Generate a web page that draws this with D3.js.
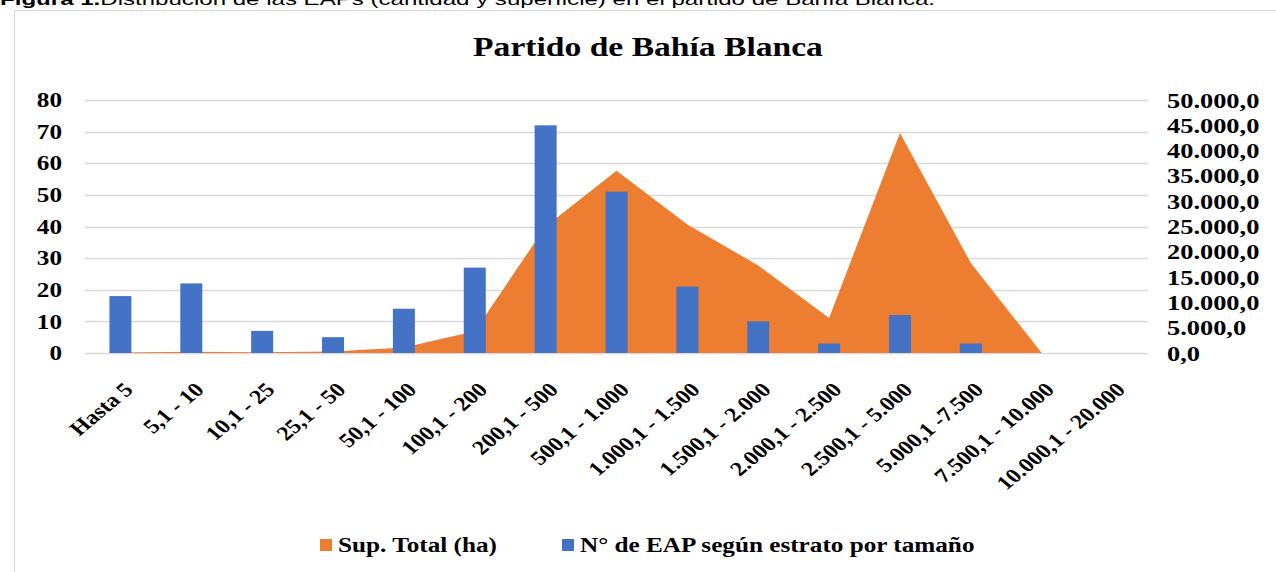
<!DOCTYPE html>
<html>
<head>
<meta charset="utf-8">
<script src="https://cdn.jsdelivr.net/npm/d3@7"></script>
<style>
  body { margin: 0; background: #fff; }
  svg { display: block; }
  .serif { font-family: "Liberation Serif", "Times New Roman", serif; font-weight: bold; fill: #000; }
</style>
</head>
<body>
<svg width="1276" height="572"></svg>
<script>
const categories = [
  'Hasta 5', '5,1 - 10', '10,1 - 25', '25,1 - 50', '50,1 - 100', '100,1 - 200',
  '200,1 - 500', '500,1 - 1.000', '1.000,1 - 1.500', '1.500,1 - 2.000',
  '2.000,1 - 2.500', '2.500,1 - 5.000', '5.000,1 -7.500', '7.500,1 - 10.000',
  '10.000,1 - 20.000'
];
// N° de EAP (left axis)
const eapCount = [18, 22, 7, 5, 14, 27, 72, 51, 21, 10, 3, 12, 3, 0, 0];
// Sup. Total (ha) (right axis)
const supTotal = [100, 250, 150, 300, 1100, 4300, 25000, 36000, 25400, 17300, 6900, 43500, 17800, 0, 0];

const leftTicks = d3.range(0, 81, 10);
const rightTicks = d3.range(0, 50001, 5000);

const $svg = d3.select('svg');
const sx = 1.2; // the chart is stretched horizontally
const plot = { left: 85, right: 1148, top: 100, bottom: 353 };

const locale = d3.formatLocale({ decimal: ',', thousands: '.', grouping: [3], currency: ['$', ''] });
const fmtRight = locale.format(',.1f');

const x = d3.scaleBand().domain(categories).range([plot.left, plot.right]).padding(0);
const yL = d3.scaleLinear().domain([0, 80]).range([plot.bottom, plot.top]);
const yR = d3.scaleLinear().domain([0, 50000]).range([plot.bottom, plot.top]);
const cx = d => x(d) + x.bandwidth() / 2;

// caption above the chart (cut off at the top)
$svg.append('text')
  .attr('x', 0)
  .attr('y', 5)
  .attr('textLength', 935)
  .attr('lengthAdjust', 'spacingAndGlyphs')
  .style('font-family', '"Liberation Sans", Arial, sans-serif')
  .style('font-size', '17px')
  .html('<tspan font-weight="bold">Figura 1.</tspan>Distribución de las EAPs (cantidad y superficie) en el partido de Bahía Blanca.');

// chart frame
$svg.append('rect')
  .attr('x', 14.5).attr('y', 10.5)
  .attr('width', 1300).attr('height', 600)
  .attr('fill', 'none')
  .attr('stroke', '#d9d9d9');

// title
$svg.append('text')
  .attr('class', 'serif')
  .attr('transform', `translate(648, 56) scale(${sx},1)`)
  .attr('text-anchor', 'middle')
  .style('font-size', '28px')
  .text('Partido de Bahía Blanca');

// gridlines
$svg.append('g')
  .selectAll('line')
  .data(leftTicks)
  .join('line')
  .attr('x1', plot.left).attr('x2', plot.right)
  .attr('y1', d => Math.round(yL(d)) + 0.5)
  .attr('y2', d => Math.round(yL(d)) + 0.5)
  .attr('stroke', '#d9d9d9')
  .attr('stroke-width', 1.3);

// area (Sup. Total)
const area = d3.area()
  .x((d, i) => cx(categories[i]))
  .y0(yR(0))
  .y1(d => yR(d));

$svg.append('path')
  .datum(supTotal)
  .attr('d', area)
  .attr('fill', '#ED7D31');

// bars (N° de EAP)
const barW = 22;
$svg.append('g')
  .selectAll('rect')
  .data(eapCount)
  .join('rect')
  .attr('x', (d, i) => cx(categories[i]) - barW / 2)
  .attr('width', barW)
  .attr('y', d => yL(d))
  .attr('height', d => yL(0) - yL(d))
  .attr('fill', '#4472C4');

// left axis
const gL = $svg.append('g')
  .attr('transform', 'translate(70,0)')
  .call(d3.axisLeft(yL).tickValues(leftTicks).tickSize(0).tickPadding(0));
gL.select('.domain').remove();
gL.selectAll('text')
  .attr('class', 'serif')
  .attr('x', null)
  .attr('transform', `translate(-8,0) scale(${sx},1)`)
  .style('font-size', '21px');

// right axis
const gR = $svg.append('g')
  .attr('transform', 'translate(1167,0)')
  .call(d3.axisRight(yR).tickValues(rightTicks).tickFormat(fmtRight).tickSize(0).tickPadding(0));
gR.select('.domain').remove();
gR.selectAll('text')
  .attr('class', 'serif')
  .attr('x', null)
  .attr('transform', `scale(${sx},1)`)
  .style('font-size', '22px');

// bottom axis
const gB = $svg.append('g')
  .attr('transform', `translate(0,${plot.bottom})`)
  .call(d3.axisBottom(x).tickSize(0).tickPadding(0));
gB.select('.domain').remove();
gB.selectAll('text')
  .attr('class', 'serif')
  .attr('y', 0)
  .attr('dy', '0.7em')
  .attr('text-anchor', 'end')
  .attr('transform', `translate(2,28) scale(${sx},1) rotate(-45)`)
  .style('font-size', '20px');

// legend
const legend = [
  { label: 'Sup. Total (ha)', color: '#ED7D31', x: 320 },
  { label: 'N° de EAP según estrato por tamaño', color: '#4472C4', x: 562 }
];
const $leg = $svg.append('g')
  .selectAll('g')
  .data(legend)
  .join('g')
  .attr('transform', d => `translate(${d.x},539)`);
$leg.append('rect')
  .attr('width', 12).attr('height', 12)
  .attr('fill', d => d.color);
$leg.append('text')
  .attr('class', 'serif')
  .attr('transform', `translate(18,13) scale(${sx},1)`)
  .style('font-size', '21px')
  .text(d => d.label);
</script>
</body>
</html>
